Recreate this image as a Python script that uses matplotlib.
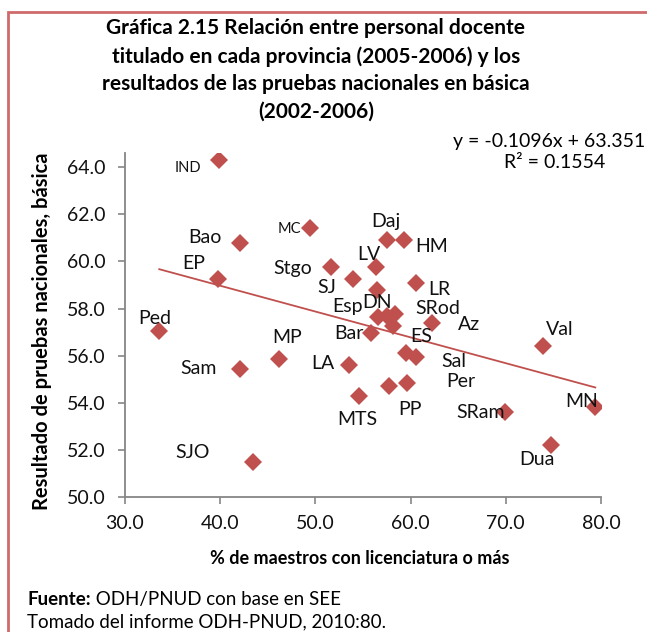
import matplotlib
matplotlib.use("Agg")
import matplotlib.pyplot as plt
import matplotlib.patches as patches
import numpy as np

plt.rcParams['font.family'] = ['Lato', 'DejaVu Sans']

# ---- data ----
names = ["IND", "Bao", "MC", "EP", "Stgo", "Ped", "Daj", "HM", "SJ", "LV", "LR", "DN",
         "Esp", "c2", "c3", "ES", "SRod", "Bar", "Val", "Sal1", "Sal", "Sam", "MP", "LA",
         "MTS", "PP", "Per", "SRam", "MN", "Dua", "SJO"]
pct_lic = [39.9, 42.1, 49.4, 39.8, 51.6, 33.6, 57.5, 59.3, 54.0, 56.4, 60.6, 56.5,
           56.6, 57.5, 58.4, 58.2, 62.3, 55.8, 73.9, 59.5, 60.6, 42.1, 46.2, 53.5,
           54.6, 57.7, 59.6, 69.9, 79.4, 74.7, 43.4]
resultado = [64.3, 60.8, 61.4, 59.25, 59.75, 57.05, 60.9, 60.9, 59.25, 59.75, 59.1, 58.8,
             57.65, 57.7, 57.75, 57.25, 57.4, 56.95, 56.4, 56.1, 55.95, 55.45, 55.85, 55.6,
             54.3, 54.7, 54.85, 53.6, 53.8, 52.2, 51.5]
slope, intercept, r2 = -0.1096, 63.351, 0.1554

# label text, attached point, offset in pixels (dx right, dy down), small font flag
labels = [("IND", "IND", -31, 8, True), ("Bao", "Bao", -35, -5, False),
          ("MC", "MC", -20, 1, True), ("EP", "EP", -25, -16, False),
          ("Stgo", "Stgo", -38, 1, False), ("Ped", "Ped", -5, -12, False),
          ("Daj", "Daj", -1, -19, False), ("HM", "HM", 28, 6, False),
          ("SJ", "SJ", -27, 8, False), ("LV", "LV", -7, -13, False),
          ("LR", "LR", 23, 7, False), ("DN", "DN", 0, 13, False),
          ("Esp", "Esp", -31, -10, False), ("SRod", "SRod", 5, -14, False),
          ("Az", "SRod", 37, 2, False), ("Bar", "Bar", -22, 0, False),
          ("ES", "ES", 28, 10, False), ("Val", "Val", 17, -17, False),
          ("Sal", "Sal", 38, 5, False), ("Per", "Per", 54, -1, False),
          ("Sam", "Sam", -42, 0, False), ("MP", "MP", 8, -22, False),
          ("LA", "LA", -26, -2, False), ("MTS", "MTS", -2, 24, False),
          ("PP", "PP", 21, 23, False), ("SRam", "SRam", -24, 0, False),
          ("MN", "MN", -14, -6, False), ("Dua", "Dua", -14, 14, False),
          ("SJO", "SJO", -60, -9, False)]

xticks = [30.0, 40.0, 50.0, 60.0, 70.0, 80.0]
yticks = [50.0, 52.0, 54.0, 56.0, 58.0, 60.0, 62.0, 64.0]

title = ("Gráfica 2.15 Relación entre personal docente\n"
         "titulado en cada provincia (2005-2006) y los\n"
         "resultados de las pruebas nacionales en básica\n"
         "(2002-2006)")
xlabel = "% de maestros con licenciatura o más"
ylabel = "Resultado de pruebas nacionales, básica"

# ---- figure ----
W, H = 647, 632
fig = plt.figure(figsize=(W / 100, H / 100), dpi=100)

def fx(x):
    return x / W

def fy(y):
    return 1 - y / H

red = "#C0504D"
grey = "#868686"
ink = "#111111"

ax = fig.add_axes([fx(125), fy(497), fx(601) - fx(125), fy(153) - fy(497)])
ax.set_xlim(30, 80)
ax.set_ylim(50, 64.6)
for s in ["top", "right"]:
    ax.spines[s].set_visible(False)
for s in ["left", "bottom"]:
    ax.spines[s].set_color(grey)
    ax.spines[s].set_linewidth(1.3)
ax.set_xticks(xticks)
ax.set_yticks(yticks)
ax.set_xticklabels([f"{v:.1f}" for v in xticks])
ax.set_yticklabels([f"{v:.1f}" for v in yticks])
ax.tick_params(axis="both", direction="out", length=5, width=1.2, color=grey,
               labelsize=14, labelcolor=ink)
ax.tick_params(axis="y", pad=9)
ax.tick_params(axis="x", pad=8)
ax.patch.set_alpha(0)

ax.plot(pct_lic, resultado, linestyle="none", marker="D", markersize=9,
        color=red, markeredgewidth=0, zorder=3)

xs = np.array([min(pct_lic), max(pct_lic)])
ax.plot(xs, slope * xs + intercept, color=red, lw=1.3, zorder=2)

idx = {n: i for i, n in enumerate(names)}
for text, anchor, dx, dy, small in labels:
    i = idx[anchor]
    ax.annotate(text, (pct_lic[i], resultado[i]), xytext=(dx, -dy),
                textcoords="offset pixels", ha="center", va="center",
                fontsize=10.5 if small else 14, color=ink, zorder=4)

ax.set_xlabel(xlabel, fontsize=13, fontweight="bold")
ax.set_ylabel(ylabel, fontsize=14.5, fontweight="bold")
ax.xaxis.set_label_coords((360 - 125) / 476, (497 - 558) / 344, transform=ax.transAxes)
ax.yaxis.set_label_coords((42 - 125) / 476, (497 - 331) / 344, transform=ax.transAxes)
ax.xaxis.label.set_va("center")
ax.yaxis.label.set_va("center")

fig.text(fx(316), fy(70), title, ha="center", va="center", fontsize=15,
         fontweight="bold", linespacing=1.48)

fig.text(fx(645), fy(142), f"y = {slope}x + {intercept}", ha="right", va="center",
         fontsize=14)
fig.text(fx(555), fy(163), f"R² = {r2}", ha="center", va="center", fontsize=14)

t1 = fig.text(fx(27), fy(605), "Fuente:", ha="left", va="baseline", fontsize=13.5,
              fontweight="bold")
ax.annotate(" ODH/PNUD con base en SEE", xy=(1, 0), xycoords=t1, ha="left",
            va="bottom", fontsize=13.5, annotation_clip=False)
fig.text(fx(27), fy(627), "Tomado del informe ODH-PNUD, 2010:80.", ha="left",
         va="baseline", fontsize=13.5)

border = patches.Rectangle((fx(8), fy(700)), fx(700), fy(12) - fy(700),
                           transform=fig.transFigure, fill=False,
                           edgecolor="#D06A6A", linewidth=2, clip_on=False)
fig.patches.append(border)

fig.savefig("out.png", dpi=100)
